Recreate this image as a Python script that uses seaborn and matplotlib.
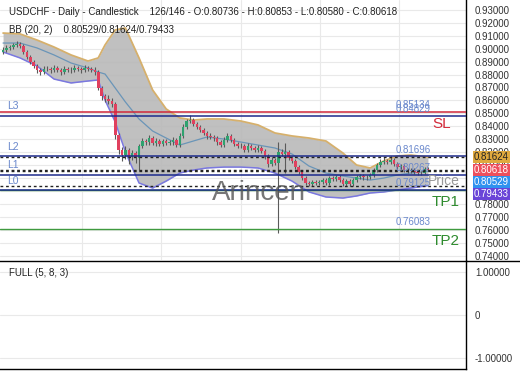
import matplotlib
matplotlib.use("Agg")
import matplotlib.pyplot as plt
import matplotlib.transforms as mtransforms
from matplotlib.lines import Line2D
import pandas as pd
import seaborn as sns

sns.set_theme(style="white")
plt.rcParams['font.family'] = ['Liberation Sans', 'DejaVu Sans']

# --- candle data (126 visible daily bars, USDCHF) ---
first_open = 0.8975
closes = [
    0.8989, 0.9005, 0.9012, 0.9028, 0.9035, 0.9020, 0.8974, 0.8935, 0.8897, 0.8866,
    0.8835, 0.8819, 0.8843, 0.8843, 0.8835, 0.8850, 0.8835, 0.8819, 0.8843, 0.8835,
    0.8835, 0.8850, 0.8843, 0.8835, 0.8850, 0.8843, 0.8835, 0.8819, 0.8696, 0.8634,
    0.8611, 0.8596, 0.8573, 0.8333, 0.8218, 0.8179, 0.8218, 0.8164, 0.8194, 0.8156,
    0.8249, 0.8287, 0.8279, 0.8310, 0.8272, 0.8287, 0.8264, 0.8287, 0.8272, 0.8279,
    0.8295, 0.8256, 0.8326, 0.8395, 0.8441, 0.8449, 0.8418, 0.8395, 0.8372, 0.8349,
    0.8326, 0.8318, 0.8310, 0.8279, 0.8256, 0.8295, 0.8326, 0.8295, 0.8264, 0.8249,
    0.8249, 0.8218, 0.8249, 0.8233, 0.8218, 0.8233, 0.8210, 0.8171, 0.8110, 0.8140,
    0.8117, 0.8202, 0.8187, 0.8202, 0.8156, 0.8133, 0.8086, 0.8048, 0.8001, 0.7963,
    0.7955, 0.7971, 0.7963, 0.7971, 0.7986, 0.7963, 0.8001, 0.7994, 0.8009, 0.7986,
    0.7955, 0.7978, 0.7955, 0.7986, 0.8009, 0.8017, 0.8009, 0.8009, 0.8025, 0.8063,
    0.8102, 0.8125, 0.8133, 0.8125, 0.8140, 0.8110, 0.8086, 0.8094, 0.8063, 0.8055,
    0.8063, 0.8048, 0.8040, 0.8040, 0.80736, 0.80618,
]
highs = [
    0.9010, 0.9025, 0.9030, 0.9045, 0.9058, 0.9050, 0.9035, 0.8990, 0.8950, 0.8915,
    0.8885, 0.8850, 0.8865, 0.8862, 0.8860, 0.8870, 0.8868, 0.8852, 0.8862, 0.8860,
    0.8855, 0.8870, 0.8868, 0.8860, 0.8872, 0.8865, 0.8860, 0.8858, 0.8835, 0.8712,
    0.8650, 0.8640, 0.8620, 0.8590, 0.8350, 0.8240, 0.8245, 0.8235, 0.8215, 0.8212,
    0.8265, 0.8310, 0.8305, 0.8330, 0.8325, 0.8308, 0.8300, 0.8305, 0.8302, 0.8298,
    0.8315, 0.8310, 0.8345, 0.8415, 0.8460, 0.8488, 0.8465, 0.8432, 0.8410, 0.8390,
    0.8365, 0.8345, 0.8335, 0.8325, 0.8295, 0.8315, 0.8350, 0.8340, 0.8310, 0.8282,
    0.8270, 0.8265, 0.8268, 0.8265, 0.8250, 0.8255, 0.8250, 0.8228, 0.8185, 0.8160,
    0.8158, 0.8279, 0.8225, 0.8272, 0.8218, 0.8172, 0.8150, 0.8102, 0.8062, 0.8015,
    0.7980, 0.7990, 0.7988, 0.7990, 0.8005, 0.8000, 0.8020, 0.8018, 0.8028, 0.8025,
    0.8000, 0.7995, 0.7992, 0.8005, 0.8028, 0.8035, 0.8032, 0.8028, 0.8042, 0.8080,
    0.8120, 0.8145, 0.8160, 0.8150, 0.8170, 0.8158, 0.8125, 0.8112, 0.8110, 0.8078,
    0.8080, 0.8078, 0.8062, 0.8058, 0.8090, 0.80853,
]
lows = [
    0.8960, 0.8975, 0.8990, 0.9000, 0.9015, 0.9005, 0.8960, 0.8920, 0.8880, 0.8850,
    0.8815, 0.8800, 0.8805, 0.8825, 0.8815, 0.8820, 0.8818, 0.8800, 0.8805, 0.8818,
    0.8815, 0.8820, 0.8825, 0.8815, 0.8822, 0.8825, 0.8818, 0.8800, 0.8680, 0.8600,
    0.8585, 0.8570, 0.8550, 0.8300, 0.8190, 0.8130, 0.8150, 0.8110, 0.8140, 0.8120,
    0.8063, 0.8230, 0.8255, 0.8260, 0.8255, 0.8250, 0.8245, 0.8250, 0.8255, 0.8255,
    0.8260, 0.8238, 0.8240, 0.8310, 0.8380, 0.8425, 0.8400, 0.8378, 0.8355, 0.8330,
    0.8305, 0.8300, 0.8290, 0.8260, 0.8240, 0.8240, 0.8280, 0.8278, 0.8248, 0.8232,
    0.8230, 0.8200, 0.8205, 0.8215, 0.8200, 0.8200, 0.8192, 0.8150, 0.8090, 0.8095,
    0.8100, 0.7577, 0.8170, 0.8040, 0.8138, 0.8115, 0.8068, 0.8030, 0.7985, 0.7945,
    0.7938, 0.7940, 0.7945, 0.7948, 0.7955, 0.7945, 0.7948, 0.7978, 0.7978, 0.7968,
    0.7938, 0.7940, 0.7938, 0.7940, 0.7970, 0.7992, 0.7990, 0.7990, 0.7992, 0.8010,
    0.8048, 0.8088, 0.8110, 0.8108, 0.8110, 0.8092, 0.8070, 0.8070, 0.8048, 0.8038,
    0.8040, 0.8030, 0.8025, 0.8022, 0.8030, 0.80580,
]

# --- Bollinger bands (20, 2), read at sample bars ---
bb_bars = [0, 5, 10, 15, 20, 25, 28, 30, 33, 36, 40, 44, 48, 52, 56,
           60, 65, 70, 75, 80, 85, 90, 95, 100, 104, 108, 112, 116, 120, 125]
bb_upper = [0.9120, 0.9113, 0.9066, 0.9012, 0.8951, 0.8904, 0.8928, 0.9028, 0.9144, 0.9159,
            0.8928, 0.8681, 0.8534, 0.8465, 0.8449, 0.8457, 0.8457, 0.8441, 0.8411, 0.8349,
            0.8326, 0.8310, 0.8287, 0.8194, 0.8102, 0.8079, 0.8133, 0.8171, 0.8179, 0.81624]
bb_mid = [0.9043, 0.9043, 0.9005, 0.8951, 0.8889, 0.8850, 0.8819, 0.8804, 0.8696, 0.8588,
          0.8457, 0.8364, 0.8310, 0.8256, 0.8287, 0.8318, 0.8302, 0.8279, 0.8256, 0.8233,
          0.8187, 0.8094, 0.8040, 0.8017, 0.8001, 0.7986, 0.8001, 0.8025, 0.8040, 0.80529]
bb_lower = [0.8974, 0.8928, 0.8866, 0.8765, 0.8735, 0.8750, 0.8758, 0.8603, 0.8434, 0.8202,
            0.7963, 0.7924, 0.7978, 0.8040, 0.8063, 0.8079, 0.8086, 0.8086, 0.8079, 0.8040,
            0.7978, 0.7894, 0.7855, 0.7847, 0.7863, 0.7886, 0.7894, 0.7909, 0.7924, 0.79433]

# --- levels ---
sl_level = 0.85134
tp1_level = 0.79125
tp2_level = 0.76083
l_names = ['L3', 'L2', 'L1', 'L0']
l_levels = [0.84829, 0.81696, 0.80267, 0.79060]
l_value_labels = ['0.84829', '0.81696', '0.80267', None]
last_values = [0.81624, 0.80618, 0.80529, 0.79433]
last_colors = ['#e0a93e', '#ee4f5c', '#2f92f0', '#6a45d8']
last_text_colors = ['#222222', 'white', 'white', 'white']
price_ticks = [0.74, 0.75, 0.76, 0.77, 0.78, 0.79, 0.80, 0.81, 0.82, 0.83,
               0.84, 0.85, 0.86, 0.87, 0.88, 0.89, 0.90, 0.91, 0.92, 0.93]
grid_bars = [23.3, 46.6, 69.9, 93.2, 116.5]

df = pd.DataFrame({'bar': range(len(closes)), 'close': closes, 'high': highs, 'low': lows})
df['open'] = [first_open] + closes[:-1]
bb = pd.DataFrame({'bar': bb_bars, 'upper': bb_upper, 'mid': bb_mid, 'lower': bb_lower})

fig = plt.figure(figsize=(5.2, 3.9), dpi=100)
fig.patch.set_facecolor('white')
ax = fig.add_axes([0, 130 / 390, 466 / 520, 260 / 390])
ax2 = fig.add_axes([0, 21 / 390, 466 / 520, 108 / 390])

ax.set_xlim(-0.9, 136.2)
ax.set_ylim(0.7369, 0.9375)
ax.set_yticks(price_ticks)
ax.set_yticklabels([f'{t:.5f}' for t in price_ticks])
ax.yaxis.tick_right()
ax.tick_params(axis='y', length=0, pad=6.5, labelsize=7, labelcolor='#333333')
ax.set_xticks(grid_bars)
ax.set_xticklabels([])
ax.tick_params(axis='x', length=0)
ax.grid(True, color='#e9e9e9', lw=0.8)
ax.set_axisbelow(True)
for s in ['left', 'top', 'bottom']:
    ax.spines[s].set_visible(False)
ax.spines['right'].set_color('black')
ax.spines['right'].set_linewidth(1)

# bands
ax.fill_between(bb['bar'], bb['lower'], bb['upper'], color='#b9b9b9', alpha=0.9, lw=0, zorder=1)
sns.lineplot(data=bb, x='bar', y='upper', ax=ax, color='#d6b06c', lw=1.3, zorder=2)
sns.lineplot(data=bb, x='bar', y='mid', ax=ax, color='#6a95b8', lw=0.9, zorder=2)
sns.lineplot(data=bb, x='bar', y='lower', ax=ax, color='#7a78e0', lw=1.1, zorder=2)
ax.set_xlabel('')
ax.set_ylabel('')

# candles
up = df['close'] >= df['open']
body_col = ['#2fa26f' if u else '#e0405e' for u in up]
ax.vlines(df['bar'], df['low'], df['high'], color='#5a5a5a', lw=0.8, zorder=3)
ax.bar(df['bar'], (df['close'] - df['open']).abs().clip(lower=0.0003),
       bottom=df[['open', 'close']].min(axis=1), width=0.75, color=body_col, lw=0, zorder=3)

# horizontal levels
trans = mtransforms.blended_transform_factory(ax.transAxes, ax.transData)
ax.axhline(sl_level, color='#d0283a', lw=1.1, zorder=4)
ax.axhline(tp1_level, color='#3f9a3f', lw=1.0, zorder=4)
ax.axhline(tp2_level, color='#3f9a3f', lw=1.0, zorder=4)
for name, lvl, lab in zip(l_names, l_levels, l_value_labels):
    ax.axhline(lvl, color='#1c2a8c', lw=1.1, zorder=4)
    ax.annotate(name, (0.015, lvl), xycoords=trans, xytext=(0, 7), textcoords='offset points',
                ha='left', va='center', fontsize=7.5, color='#6a88cc', zorder=5)
    if lab:
        ax.annotate(lab, (0.848, lvl), xycoords=trans, xytext=(0, 4.7), textcoords='offset points',
                    ha='left', va='center', fontsize=7, color='#6a88cc', zorder=5)
for v in last_values:
    ax.axhline(v, color='#222222', lw=1.0, ls=(0, (2, 2)), zorder=4)

for lab, lvl in [('0.85134', sl_level), ('0.79125', tp1_level), ('0.76083', tp2_level)]:
    ax.annotate(lab, (0.848, lvl), xycoords=trans, xytext=(0, 4.7), textcoords='offset points',
                ha='left', va='center', fontsize=7, color='#6a88cc', zorder=5)
for lab, lvl, col in [('SL', sl_level, '#d42a3a'), ('TP1', tp1_level, '#2e8b2e'), ('TP2', tp2_level, '#2e8b2e')]:
    ax.annotate(lab, (0.927, lvl), xycoords=trans, xytext=(0, -9), textcoords='offset points',
                ha='left', va='center', fontsize=11, color=col, zorder=5)

ax.text(0.918, 0.7975, 'Price', transform=trans, fontsize=10, color='#999999',
        ha='left', va='center', clip_on=True, zorder=5)
ax.text(0.556, 0.7886, 'Arincen', transform=trans, fontsize=20, color='#555555',
        alpha=0.8, ha='center', va='center', zorder=6)

# last value boxes on the price scale
box_pos = []
for v in last_values:
    box_pos.append(v if not box_pos else min(v, box_pos[-1] - 0.0093))
for v, y, c, tc in zip(last_values, box_pos, last_colors, last_text_colors):
    ax.text(1 + 8 / 466, y, f'{v:.5f}', transform=trans, fontsize=7, color=tc,
            ha='left', va='center', clip_on=False, zorder=7,
            bbox=dict(boxstyle='square,pad=0.1', fc=c, ec='none'))

# header
fig.text(9 / 520, 1 - 12 / 390,
         'USDCHF - Daily - Candlestick    126/146 - O:0.80736 - H:0.80853 - L:0.80580 - C:0.80618',
         fontsize=7, color='#222222', ha='left', va='center')
fig.text(9 / 520, 1 - 30 / 390, 'BB (20, 2)    0.80529/0.81624/0.79433',
         fontsize=7, color='#222222', ha='left', va='center')

# lower indicator panel
ax2.set_xlim(ax.get_xlim())
ax2.set_ylim(-1.26, 1.25)
ax2.set_yticks([1, 0, -1])
ax2.set_yticklabels(['1.00000', '0', '-1.00000'])
ax2.yaxis.tick_right()
ax2.tick_params(axis='y', length=0, pad=6.5, labelsize=7, labelcolor='#333333')
ax2.set_xticks([])
ax2.grid(True, axis='y', color='#e9e9e9', lw=0.8)
ax2.spines['left'].set_visible(False)
for s in ['top', 'right', 'bottom']:
    ax2.spines[s].set_color('black')
    ax2.spines[s].set_linewidth(1)
ax2.text(9 / 466, 1 - 12 / 108, 'FULL (5, 8, 3)', transform=ax2.transAxes,
         fontsize=7, color='#222222', ha='left', va='center')

fig.add_artist(Line2D([466 / 520, 1], [129 / 390, 129 / 390], color='black', lw=1))

fig.savefig('out.png', dpi=100)
